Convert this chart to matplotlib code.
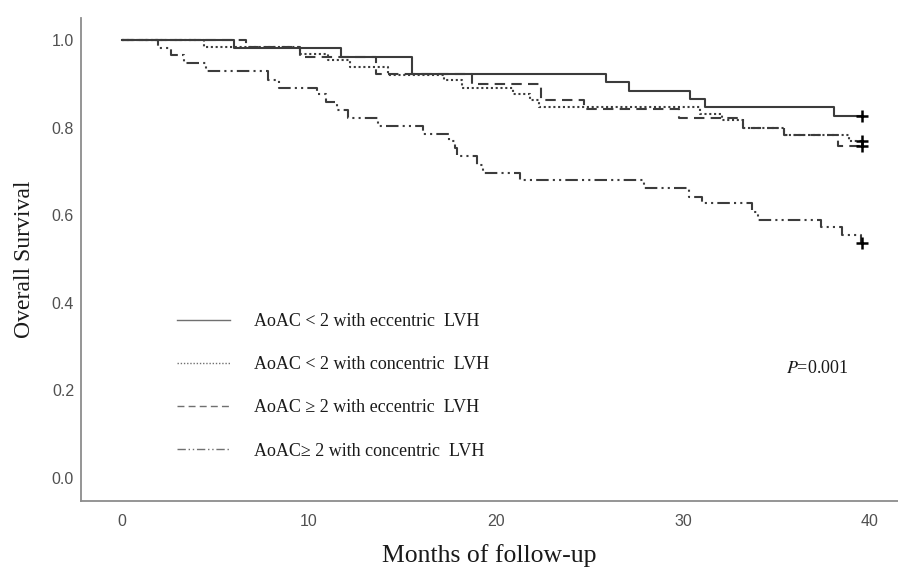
import matplotlib
matplotlib.use("Agg")
from matplotlib import pyplot as plt

plt.rcParams['font.family'] = ['Liberation Serif', 'DejaVu Serif']
plt.rcParams['mathtext.fontset'] = 'stix'

# Kaplan-Meier step curves: event times (months) and survival after each step
ecc_lo_t = [0, 6.0, 11.7, 15.5, 25.9, 27.1, 30.4, 31.2, 38.1]
ecc_lo_s = [1.0, 0.981, 0.960, 0.922, 0.903, 0.884, 0.865, 0.846, 0.826]

con_lo_t = [0, 4.4, 9.5, 11.0, 12.2, 14.2, 17.2, 18.2, 20.9, 21.8, 22.3,
            30.9, 32.1, 33.2, 35.4, 38.9]
con_lo_s = [1.0, 0.983, 0.967, 0.953, 0.938, 0.921, 0.909, 0.891, 0.877,
            0.863, 0.846, 0.831, 0.817, 0.800, 0.783, 0.770]

ecc_hi_t = [0, 6.6, 9.5, 13.6, 18.7, 22.4, 24.7, 29.8, 33.2, 35.4, 38.3]
ecc_hi_s = [1.0, 0.983, 0.960, 0.922, 0.900, 0.863, 0.842, 0.822, 0.800,
            0.783, 0.758]

con_hi_t = [0, 1.9, 2.6, 3.3, 4.5, 7.8, 8.4, 10.4, 10.9, 11.5, 12.1, 13.7,
            16.1, 17.5, 17.8, 17.9, 19.0, 19.3, 21.3, 27.9, 30.3, 31.0,
            33.7, 34.0, 37.4, 38.5, 39.5]
con_hi_s = [1.0, 0.981, 0.966, 0.947, 0.928, 0.909, 0.891, 0.877, 0.859,
            0.840, 0.821, 0.804, 0.785, 0.770, 0.753, 0.734, 0.715, 0.696,
            0.679, 0.661, 0.642, 0.627, 0.608, 0.589, 0.572, 0.555, 0.536]

end_time = 39.6

labels = ["AoAC < 2 with eccentric  LVH",
          "AoAC < 2 with concentric  LVH",
          "AoAC \u2265 2 with eccentric  LVH",
          "AoAC\u2265 2 with concentric  LVH"]

x_ticks = [0, 10, 20, 30, 40]
y_ticks = [0.0, 0.2, 0.4, 0.6, 0.8, 1.0]

styles = ['-', (0, (1, 1.3)), (0, (5, 3)), (0, (6, 2, 1, 2, 1, 2))]
curves = [(ecc_lo_t, ecc_lo_s), (con_lo_t, con_lo_s),
          (ecc_hi_t, ecc_hi_s), (con_hi_t, con_hi_s)]

fig = plt.figure(figsize=(8.98, 5.72), dpi=100)
ax = fig.add_axes([0.0902, 0.124, 0.9098, 0.8445])

handles = []
for (t, s), ls, lab in zip(curves, styles, labels):
    tt = list(t) + [end_time]
    ss = list(s) + [s[-1]]
    h, = ax.step(tt, ss, where='post', color='#3c3c3c', lw=1.5,
                 linestyle=ls, label=lab)
    handles.append(h)
    ax.plot(end_time, s[-1], marker='+', color='black', ms=9, mew=1.8)

ax.set_xlim(-2.2, 41.5)
ax.set_ylim(-0.053, 1.05)
ax.set_xticks(x_ticks)
ax.set_yticks(y_ticks)
ax.set_xticklabels([str(v) for v in x_ticks])
ax.set_yticklabels(["%.1f" % v for v in y_ticks])
ax.tick_params(length=0, labelsize=11.5, colors='#505050')
ax.tick_params(axis='y', pad=5)
ax.tick_params(axis='x', pad=9)
for lab in ax.get_xticklabels() + ax.get_yticklabels():
    lab.set_fontfamily('Liberation Sans')

for side in ['top', 'right']:
    ax.spines[side].set_visible(False)
for side in ['left', 'bottom']:
    ax.spines[side].set_color('#8c8c8c')
    ax.spines[side].set_linewidth(1.3)

ax.set_xlabel("Months of follow-up", fontsize=18.5, labelpad=11, color='#1a1a1a')
ax.set_ylabel("Overall Survival", fontsize=17, labelpad=12, color='#1a1a1a')

leg = ax.legend(handles=handles, loc='upper left',
                bbox_to_anchor=(0.197, 0.4528), bbox_transform=fig.transFigure,
                frameon=False, fontsize=13, borderpad=0, borderaxespad=0,
                handlelength=2.95, handletextpad=1.3, labelspacing=1.45)
for h in leg.get_lines():
    h.set_linewidth(1.0)
    h.set_color('#707070')
for txt in leg.get_texts():
    txt.set_color('#1a1a1a')

ax.text(35.5, 0.2495, "$P$=0.001", fontsize=13, color='#1a1a1a',
        va='center', ha='left')

fig.savefig("out.png", dpi=100)
